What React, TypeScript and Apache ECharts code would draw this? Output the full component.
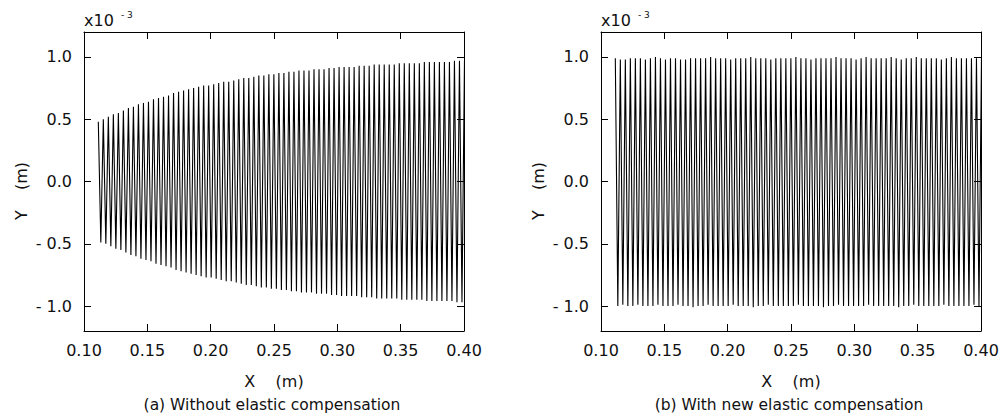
import React, { useEffect, useRef } from "react";
import * as echarts from "echarts";

// Tick values
const xTicks = [0.1, 0.15, 0.2, 0.25, 0.3, 0.35, 0.4];
const yTicks = [-1, -0.5, 0, 0.5, 1];

// Oscillation sampling: x of first peak and period (m)
const firstPeakX = 0.1113;
const cyclePeriod = 0.00396;

// (a) peak amplitudes per cycle (x10^-3 m)
const leftUpper = [
  0.48, 0.5, 0.52, 0.54, 0.55, 0.57, 0.59, 0.6, 0.62, 0.63,
  0.64, 0.66, 0.67, 0.68, 0.69, 0.71, 0.72, 0.73, 0.74, 0.75,
  0.76, 0.77, 0.77, 0.78, 0.79, 0.8, 0.8, 0.81, 0.82, 0.83,
  0.83, 0.84, 0.85, 0.85, 0.86, 0.86, 0.87, 0.87, 0.88, 0.88,
  0.89, 0.89, 0.89, 0.9, 0.9, 0.9, 0.91, 0.91, 0.92, 0.92,
  0.92, 0.92, 0.93, 0.93, 0.93, 0.94, 0.94, 0.94, 0.94, 0.94,
  0.95, 0.95, 0.95, 0.95, 0.95, 0.96, 0.96, 0.96, 0.96, 0.96,
  0.96, 0.97, 0.97,
];
const leftLower = [
  -0.49, -0.5, -0.52, -0.54, -0.55, -0.57, -0.59, -0.6, -0.62, -0.63,
  -0.64, -0.66, -0.67, -0.68, -0.69, -0.71, -0.72, -0.73, -0.74, -0.75,
  -0.76, -0.77, -0.77, -0.78, -0.79, -0.8, -0.8, -0.81, -0.82, -0.83,
  -0.83, -0.84, -0.85, -0.85, -0.86, -0.86, -0.87, -0.87, -0.88, -0.88,
  -0.89, -0.89, -0.89, -0.9, -0.9, -0.9, -0.91, -0.91, -0.92, -0.92,
  -0.92, -0.92, -0.93, -0.93, -0.93, -0.94, -0.94, -0.94, -0.94, -0.94,
  -0.95, -0.95, -0.95, -0.95, -0.95, -0.96, -0.96, -0.96, -0.96, -0.96,
  -0.96, -0.97, -0.97,
];

// (b) peak amplitudes per cycle
const rightUpper = [
  0.99, 0.98, 0.98, 0.99, 0.99, 0.99, 0.98, 0.99, 1.0, 0.99,
  0.98, 0.99, 0.99, 0.98, 0.98, 0.99, 0.99, 0.99, 0.99, 1.0,
  0.99, 0.99, 0.99, 0.98, 0.99, 0.99, 0.99, 1.0, 0.99, 0.99,
  0.99, 0.98, 0.99, 0.99, 0.99, 0.99, 1.0, 0.99, 0.99, 0.98,
  0.99, 0.99, 0.99, 0.99, 1.0, 0.99, 0.99, 0.99, 0.98, 0.99,
  1.0, 0.99, 0.99, 0.99, 0.99, 1.0, 0.99, 0.98, 0.99, 0.99,
  1.0, 0.99, 0.99, 0.99, 0.99, 0.98, 0.99, 1.0, 0.99, 0.99,
  0.99, 0.99, 0.99,
];
const rightLower = [
  -1.0, -0.99, -1.0, -1.0, -0.99, -1.0, -1.0, -1.0, -0.99, -1.0,
  -1.0, -1.0, -0.99, -1.0, -1.0, -1.01, -1.0, -1.0, -0.99, -1.0,
  -1.0, -1.0, -1.0, -0.99, -1.0, -1.0, -1.0, -1.01, -1.0, -1.0,
  -0.99, -1.0, -1.0, -1.0, -1.0, -1.0, -0.99, -1.0, -1.0, -1.0,
  -1.0, -1.01, -1.0, -1.0, -0.99, -1.0, -1.0, -1.0, -1.0, -1.0,
  -0.99, -1.0, -1.0, -1.0, -1.0, -1.0, -1.01, -1.0, -1.0, -0.99,
  -1.0, -1.0, -1.0, -1.0, -1.0, -0.99, -1.0, -1.0, -1.0, -1.0,
  -1.0, -0.99, -1.0,
];

const FONT = "DejaVu Sans";
const TXT = "#111";
const NB = "\u00a0";

function buildPoints(upper: number[], lower: number[]) {
  const pts: number[][] = [];
  const n = Math.min(upper.length, lower.length);
  for (let i = 0; i < n; i++) {
    const x = firstPeakX + i * cyclePeriod;
    pts.push([x, upper[i]]);
    pts.push([x + cyclePeriod / 2, lower[i]]);
  }
  pts.push([firstPeakX + n * cyclePeriod, upper[n - 1]]);
  return pts;
}

const fmtX = (v: number) => v.toFixed(2);
const fmtY = (v: number) =>
  v < 0 ? "- " + Math.abs(v).toFixed(1) : Math.abs(v).toFixed(1);

function xAxes(gridIndex: number) {
  const common = {
    type: "value",
    gridIndex,
    min: 0.1,
    max: 0.4,
    splitLine: { show: false },
    axisLine: { show: true, onZero: false, lineStyle: { color: "#000", width: 1 } },
    axisTick: { show: true, inside: true, length: 7, customValues: xTicks, lineStyle: { color: "#000", width: 1 } },
  };
  return [
    {
      ...common,
      position: "bottom",
      axisLabel: {
        customValues: xTicks,
        formatter: fmtX,
        margin: 11,
        fontSize: 16,
        fontFamily: FONT,
        color: TXT,
      },
    },
    { ...common, position: "top", axisLabel: { show: false } },
  ];
}

function yAxes(gridIndex: number) {
  const common = {
    type: "value",
    gridIndex,
    min: -1.2,
    max: 1.2,
    splitLine: { show: false },
    axisLine: { show: true, onZero: false, lineStyle: { color: "#000", width: 1 } },
    axisTick: { show: true, inside: true, length: 7, customValues: yTicks, lineStyle: { color: "#000", width: 1 } },
  };
  return [
    {
      ...common,
      position: "left",
      axisLabel: {
        customValues: yTicks,
        formatter: fmtY,
        margin: 12,
        fontSize: 16,
        fontFamily: FONT,
        color: TXT,
      },
    },
    { ...common, position: "right", axisLabel: { show: false } },
  ];
}

function panelTexts(left: number, yLabelX: number, caption: string) {
  const cx = left + 190;
  return [
    {
      type: "text",
      x: left,
      y: 20,
      style: { text: "x10", fontSize: 16, fontFamily: FONT, fill: TXT, align: "left", verticalAlign: "middle" },
    },
    {
      type: "text",
      x: left + 37,
      y: 15,
      style: { text: "- 3", fontSize: 9, fontFamily: FONT, fill: TXT, align: "left", verticalAlign: "middle" },
    },
    {
      type: "text",
      x: cx,
      y: 381,
      style: { text: "X" + NB + NB + NB + NB + "(m)", fontSize: 16, fontFamily: FONT, fill: TXT, align: "center", verticalAlign: "middle" },
    },
    {
      type: "text",
      x: cx - 2,
      y: 405,
      style: { text: caption, fontSize: 15.5, fontFamily: FONT, fill: TXT, align: "center", verticalAlign: "middle" },
    },
    {
      type: "text",
      x: yLabelX,
      y: 191,
      rotation: Math.PI / 2,
      style: { text: "Y" + NB + NB + NB + NB + "(m)", fontSize: 16, fontFamily: FONT, fill: TXT, align: "center", verticalAlign: "middle" },
    },
  ];
}

export default function App() {
  const ref = useRef<HTMLDivElement>(null);
  useEffect(() => {
    document.body.style.margin = "0";
    if (!ref.current) return;
    const chart = echarts.init(ref.current, undefined, { renderer: "svg" });
    const option: any = {
      animation: false,
      backgroundColor: "#fff",
      grid: [
        { left: 84, top: 32, width: 380, height: 299 },
        { left: 601, top: 32, width: 380, height: 299 },
      ],
      xAxis: [...xAxes(0), ...xAxes(1)],
      yAxis: [...yAxes(0), ...yAxes(1)],
      series: [
        {
          type: "line",
          xAxisIndex: 0,
          yAxisIndex: 0,
          data: buildPoints(leftUpper, leftLower),
          showSymbol: false,
          symbol: "none",
          clip: true,
          lineStyle: { color: "#000", width: 1.1 },
        },
        {
          type: "line",
          xAxisIndex: 2,
          yAxisIndex: 2,
          data: buildPoints(rightUpper, rightLower),
          showSymbol: false,
          symbol: "none",
          clip: true,
          lineStyle: { color: "#000", width: 1.1 },
        },
      ],
      graphic: [
        ...panelTexts(84, 21, "(a) Without elastic compensation"),
        ...panelTexts(601, 538, "(b) With new elastic compensation"),
      ],
    };
    chart.setOption(option);
    return () => chart.dispose();
  }, []);
  return <div ref={ref} style={{ width: 1005, height: 419 }} />;
}
